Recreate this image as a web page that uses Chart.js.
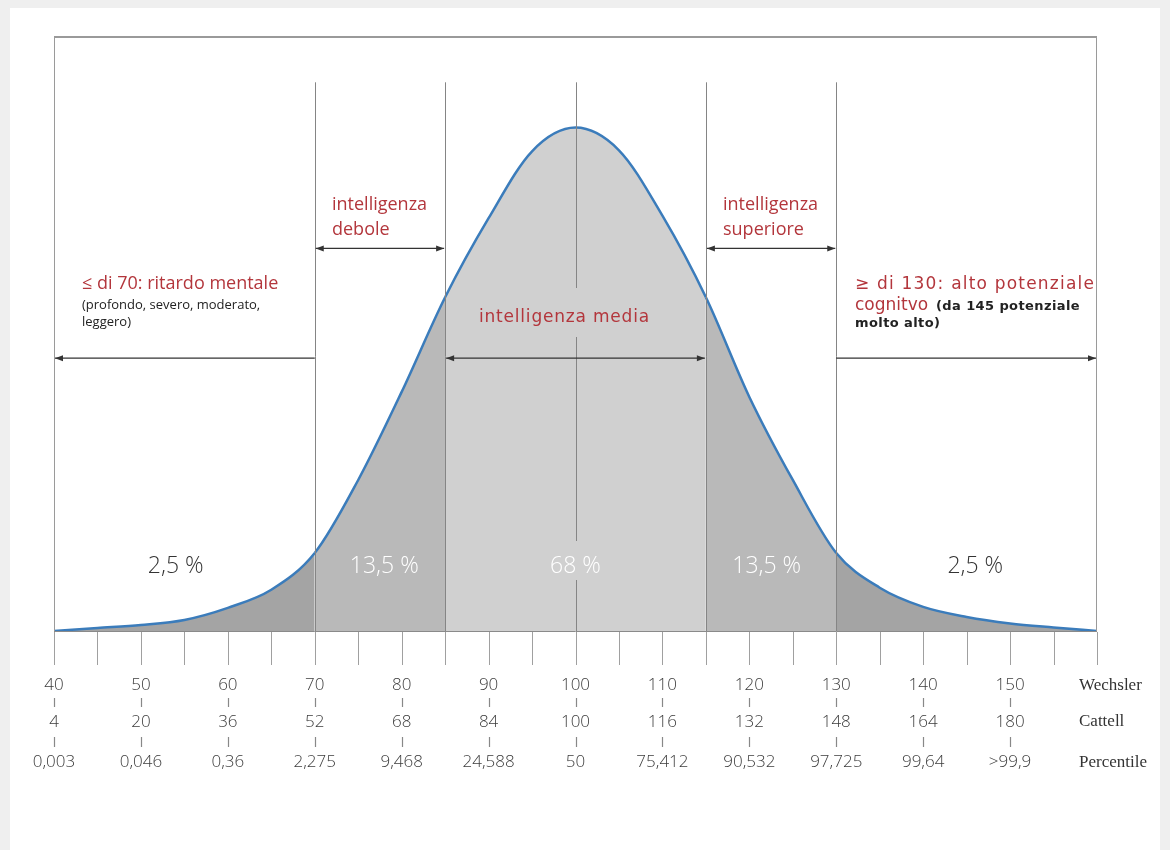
<!DOCTYPE html>
<html>
<head>
<meta charset="utf-8">
<script src="https://cdn.jsdelivr.net/npm/chart.js@4.4.0/dist/chart.umd.min.js"></script>
<style>
  html, body { margin: 0; padding: 0; background: #efefef; }
  #panel { position: absolute; left: 10px; top: 8px; width: 1150px; height: 842px; background: #fff; }
  #wrap { position: absolute; left: 0; top: 0; width: 1170px; height: 850px; }
</style>
</head>
<body>
<div id="panel"></div>
<div id="wrap"><canvas id="iqChart" width="1170" height="850"></canvas></div>
<script>
// values (curve height, peak = 100)
const iqPoints = [40, 45, 50, 55, 60, 65, 70, 75, 80, 85, 90, 95, 100, 105, 110, 115, 120, 125, 130, 135, 140, 145, 150, 155, 160];
const curveHeight = [0, 0.6, 1.2, 2.2, 4.6, 8.2, 15.5, 30, 47.5, 66.3, 82, 95.3, 100, 95.5, 82.5, 66.3, 46.5, 30, 15.5, 8.6, 4.8, 2.8, 1.5, 0.7, 0];

const wechslerTicks = [40, 50, 60, 70, 80, 90, 100, 110, 120, 130, 140, 150];
const cattellLabels = ['4', '20', '36', '52', '68', '84', '100', '116', '132', '148', '164', '180'];
const percentileLabels = ['0,003', '0,046', '0,36', '2,275', '9,468', '24,588', '50', '75,412', '90,532', '97,725', '99,64', '>99,9'];
const rowNames = ['Wechsler', 'Cattell', 'Percentile'];

const bandEdges = [70, 85, 115, 130];
const bandLabels = ['2,5 %', '13,5 %', '68 %', '13,5 %', '2,5 %'];
const bandLabelX = [54, 78, 100, 122, 146];

const darkGray = '#a4a4a4';
const midGray = '#b9b9b9';
const lightGray = '#d0d0d0';
const red = '#b3363c';

function bandColor(x) {
  if (x < 70 || x > 130) return darkGray;
  if (x < 85 || x > 115) return midGray;
  return lightGray;
}

function arrowHead(ctx, x, y, dir) {
  ctx.beginPath();
  ctx.moveTo(x, y);
  ctx.lineTo(x - dir * 8, y - 3);
  ctx.lineTo(x - dir * 8, y + 3);
  ctx.closePath();
  ctx.fill();
}

function hArrow(ctx, x1, x2, y, left, right) {
  ctx.strokeStyle = '#333';
  ctx.fillStyle = '#333';
  ctx.lineWidth = 1.2;
  ctx.beginPath();
  ctx.moveTo(x1, y);
  ctx.lineTo(x2, y);
  ctx.stroke();
  if (left) arrowHead(ctx, x1, y, -1);
  if (right) arrowHead(ctx, x2, y, 1);
}

const decorations = {
  id: 'decorations',
  afterDatasetsDraw(chart) {
    const ctx = chart.ctx;
    const xs = chart.scales.x;
    const ys = chart.scales.y;
    const area = chart.chartArea;
    const base = ys.getPixelForValue(0);
    const topLines = ys.getPixelForValue(109);
    const upperArrow = ys.getPixelForValue(76);
    const lowerArrow = ys.getPixelForValue(54.2);
    const p = v => xs.getPixelForValue(v);
    ctx.save();

    // frame
    ctx.strokeStyle = '#9a9a9a';
    ctx.lineWidth = 2;
    ctx.beginPath();
    ctx.moveTo(area.left, area.top);
    ctx.lineTo(area.right, area.top);
    ctx.stroke();
    ctx.lineWidth = 1;
    ctx.beginPath();
    ctx.moveTo(area.left + 0.5, area.top);
    ctx.lineTo(area.left + 0.5, base);
    ctx.moveTo(area.right - 0.5, area.top);
    ctx.lineTo(area.right - 0.5, base);
    ctx.stroke();

    // band edges
    ctx.strokeStyle = '#858585';
    ctx.beginPath();
    bandEdges.forEach(v => {
      const px = Math.round(p(v)) + 0.5;
      ctx.moveTo(px, topLines);
      ctx.lineTo(px, base);
    });
    const cx = Math.round(p(100)) + 0.5;
    [[topLines, 288], [337, 541], [580, base]].forEach(s => {
      ctx.moveTo(cx, s[0]);
      ctx.lineTo(cx, s[1]);
    });
    ctx.stroke();

    // baseline and ticks
    ctx.strokeStyle = '#8a8a8a';
    ctx.beginPath();
    ctx.moveTo(area.left, base + 0.5);
    ctx.lineTo(area.right, base + 0.5);
    ctx.stroke();
    ctx.strokeStyle = '#a0a0a0';
    ctx.beginPath();
    for (let v = 40; v <= 160; v += 5) {
      const px = Math.round(p(v)) + 0.5;
      ctx.moveTo(px, base + 1);
      ctx.lineTo(px, base + 34);
    }
    ctx.stroke();

    // arrows
    hArrow(ctx, p(40) + 1, p(70), lowerArrow, true, false);
    hArrow(ctx, p(85) + 1, p(115) - 1, lowerArrow, true, true);
    hArrow(ctx, p(130), p(160) - 1, lowerArrow, false, true);
    hArrow(ctx, p(70) + 1, p(85) - 1, upperArrow, true, true);
    hArrow(ctx, p(115) + 1, p(130) - 1, upperArrow, true, true);

    // scale rows
    ctx.textAlign = 'center';
    ctx.textBaseline = 'middle';
    ctx.fillStyle = '#3c3c3c';
    ctx.font = '300 17px "Open Sans"';
    ctx.strokeStyle = '#888';
    wechslerTicks.forEach((v, i) => {
      const px = p(v);
      ctx.fillText(String(v), px, 685);
      ctx.fillText(cattellLabels[i], px, 722);
      ctx.fillText(percentileLabels[i], px, 762);
      ctx.beginPath();
      ctx.moveTo(Math.round(px) + 0.5, 698);
      ctx.lineTo(Math.round(px) + 0.5, 707);
      ctx.moveTo(Math.round(px) + 0.5, 737);
      ctx.lineTo(Math.round(px) + 0.5, 747);
      ctx.stroke();
    });
    ctx.textAlign = 'left';
    ctx.font = '17px "Liberation Serif"';
    ctx.fillStyle = '#333';
    [686, 722, 763].forEach((y, i) => ctx.fillText(rowNames[i], 1079, y));

    // percentages
    ctx.textAlign = 'center';
    ctx.font = '300 23px "Open Sans"';
    bandLabels.forEach((t, i) => {
      const dark = i === 0 || i === 4;
      ctx.fillStyle = dark ? '#333' : '#ffffff';
      ctx.fillText(t, p(bandLabelX[i]), 566);
    });

    // category captions
    ctx.textAlign = 'left';
    ctx.textBaseline = 'alphabetic';
    ctx.fillStyle = red;
    ctx.font = '18px "Open Sans"';
    ctx.fillText('≤ di 70: ritardo mentale', 82, 289);
    ctx.fillText('intelligenza', 332, 210);
    ctx.fillText('debole', 332, 235);
    ctx.fillText('intelligenza', 723, 210);
    ctx.fillText('superiore', 723, 235);
    ctx.font = '17px "DejaVu Sans"';
    ctx.letterSpacing = '0.8px';
    ctx.fillText('intelligenza media', 479, 322);
    ctx.letterSpacing = '1.2px';
    ctx.fillText('≥ di 130: alto potenziale', 855, 289);
    ctx.letterSpacing = '0px';
    ctx.fillText('cognitvo', 855, 310);
    ctx.fillStyle = '#222';
    ctx.font = '13px "Open Sans"';
    ctx.fillText('(profondo, severo, moderato,', 82, 309);
    ctx.fillText('leggero)', 82, 326);
    ctx.font = 'bold 13px "DejaVu Sans"';
    ctx.letterSpacing = '0.4px';
    ctx.fillText('(da 145 potenziale', 936, 310);
    ctx.fillText('molto alto)', 855, 327);

    ctx.restore();
  }
};

new Chart(document.getElementById('iqChart'), {
  type: 'line',
  data: {
    datasets: [{
      data: iqPoints.map((x, i) => ({ x: x, y: curveHeight[i] })),
      borderColor: '#3b7cbb',
      borderWidth: 2.5,
      pointRadius: 0,
      cubicInterpolationMode: 'monotone',
      fill: 'origin',
      backgroundColor: lightGray,
      segment: {
        backgroundColor: c => bandColor((c.p0.parsed.x + c.p1.parsed.x) / 2)
      }
    }]
  },
  options: {
    responsive: false,
    animation: false,
    layout: { padding: { left: 54, right: 73, top: 37, bottom: 219 } },
    plugins: { legend: { display: false }, tooltip: { enabled: false } },
    scales: {
      x: { type: 'linear', min: 40, max: 160, display: false },
      y: { min: 0, max: 118, display: false }
    }
  },
  plugins: [decorations]
});
</script>
</body>
</html>
